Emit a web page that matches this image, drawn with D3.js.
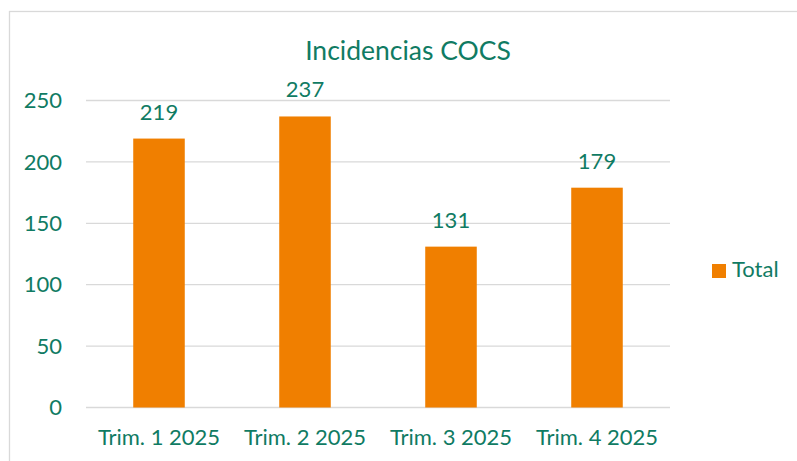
<!DOCTYPE html>
<html>
<head>
<meta charset="utf-8">
<script src="https://cdn.jsdelivr.net/npm/d3@7"></script>
<style>
  body { margin: 0; background: #fff; }
  text { font-family: Lato, "Open Sans", sans-serif; fill: #107b63; }
</style>
</head>
<body>
<svg id="chart" width="797" height="461"></svg>
<script>
// Chart data
const categories = ["Trim. 1 2025", "Trim. 2 2025", "Trim. 3 2025", "Trim. 4 2025"];
const totals = [219, 237, 131, 179];
const yTicks = [0, 50, 100, 150, 200, 250];
const seriesName = "Total";
const chartTitle = "Incidencias COCS";

const green = "#107b63";
const orange = "#f07f00";
const grid = "#d9d9d9";

const svg = d3.select("#chart");

// outer chart border (runs off the right / bottom edge)
svg.append("rect")
    .attr("x", 9.5)
    .attr("y", 11.5)
    .attr("width", 900)
    .attr("height", 600)
    .attr("fill", "none")
    .attr("stroke", grid)
    .attr("stroke-width", 1.3);

// plot area
const plot = { left: 86, right: 670, top: 100.5, bottom: 407.5 };

const x = d3.scaleBand()
    .domain(categories)
    .range([plot.left, plot.right])
    .paddingInner(0.647)
    .paddingOuter(0.3235);

const y = d3.scaleLinear()
    .domain([0, 250])
    .range([plot.bottom, plot.top]);

// gridlines
svg.append("g")
    .selectAll("line")
    .data(yTicks)
    .enter().append("line")
    .attr("x1", plot.left)
    .attr("x2", plot.right)
    .attr("y1", d => y(d))
    .attr("y2", d => y(d))
    .attr("stroke", grid)
    .attr("stroke-width", 1.3);

// y tick labels
svg.append("g")
    .selectAll("text")
    .data(yTicks)
    .enter().append("text")
    .attr("x", 62)
    .attr("y", d => y(d))
    .attr("dy", "0.35em")
    .attr("text-anchor", "end")
    .style("font-size", "22px")
    .text(d => d);

// bars
const data = categories.map((c, i) => ({ cat: c, value: totals[i] }));

svg.append("g")
    .selectAll("rect")
    .data(data)
    .enter().append("rect")
    .attr("x", d => x(d.cat))
    .attr("y", d => y(d.value))
    .attr("width", x.bandwidth())
    .attr("height", d => y(0) - y(d.value))
    .attr("fill", orange);

// value labels
svg.append("g")
    .selectAll("text")
    .data(data)
    .enter().append("text")
    .attr("x", d => x(d.cat) + x.bandwidth() / 2)
    .attr("y", d => y(d.value) - 19)
    .attr("text-anchor", "middle")
    .style("font-size", "22px")
    .text(d => d.value);

// x category labels
svg.append("g")
    .selectAll("text")
    .data(categories)
    .enter().append("text")
    .attr("x", d => x(d) + x.bandwidth() / 2)
    .attr("y", plot.bottom + 37.5)
    .attr("text-anchor", "middle")
    .style("font-size", "22px")
    .text(d => d);

// title
svg.append("text")
    .attr("x", 408)
    .attr("y", 60)
    .attr("text-anchor", "middle")
    .style("font-size", "26.5px")
    .text(chartTitle);

// legend
const legend = svg.append("g").attr("transform", "translate(712,264)");
legend.append("rect")
    .attr("width", 14)
    .attr("height", 14)
    .attr("fill", orange);
legend.append("text")
    .attr("x", 20)
    .attr("y", 13)
    .style("font-size", "22px")
    .text(seriesName);
</script>
</body>
</html>
